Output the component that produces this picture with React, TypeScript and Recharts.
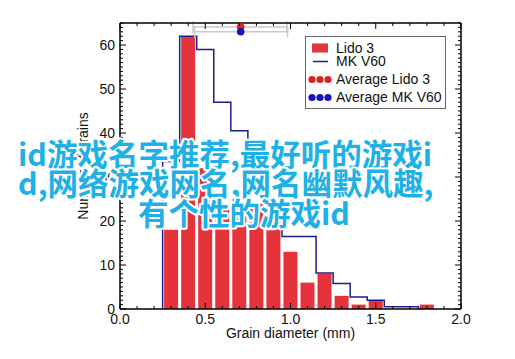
import React from 'react';
import { ComposedChart, Bar, Line, Scatter, ErrorBar, XAxis, YAxis, Legend } from 'recharts';

// histogram bins (mm) and counts
const binCenters = [0.3, 0.4, 0.5, 0.6, 0.7, 0.8, 0.9, 1.0, 1.1, 1.2, 1.3, 1.4, 1.5, 1.6, 1.7, 1.8];
const lidoCounts = [18, 62, 32, 24, 24, 24, 22, 13, 6, 8, 3, 1, 2, 0, 0, 1];

// MK V60 step outline (bin edges)
const mkEdges = [0.25, 0.25, 0.35, 0.45, 0.55, 0.65, 0.75, 0.85, 0.95, 1.05, 1.15, 1.25, 1.35, 1.45, 1.55, 1.65, 1.75];
const mkCounts = [0, 33.5, 62, 59, 47, 40.5, 30, 25, 16.5, 16.5, 8.2, 5.8, 2.7, 2, 0.5, 0.5, 0];

// averages with spread
const avgX = [0.708, 0.708];
const avgY = [64.1, 63.0];
const avgErrLow = [0.28, 0.27];
const avgErrHigh = [0.27, 0.275];

const xMajorTicks = [0, 0.5, 1.0, 1.5, 2.0];
const yMajorTicks = [0, 10, 20, 30, 40, 50, 60];
const xTicks = Array.from({ length: 21 }, (_, i) => i / 10);
const yTicks = Array.from({ length: 66 }, (_, i) => i);

const legendNames = ['Lido 3', 'MK V60', 'Average Lido 3', 'Average MK V60'];
const overlayLines = ['id游戏名字推荐,最好听的游戏i', 'd,网络游戏网名,网名幽默风趣,', '有个性的游戏id'];

const RED = '#e5333b';
const NAVY = '#1c1c8c';
const FONT = '"Liberation Sans", Arial, Helvetica, sans-serif';

const barData = binCenters.map((x, i) => ({ x, count: lidoCounts[i] }));
const mkData = mkEdges.map((x, i) => ({ x, y: mkCounts[i] }));
const avgLido = [{ x: avgX[0], y: avgY[0], err: [avgErrLow[0], avgErrHigh[0]] }];
const avgMk = [{ x: avgX[1], y: avgY[1], err: [avgErrLow[1], avgErrHigh[1]] }];

const isMajorX = (v: number) => xMajorTicks.some((m) => Math.abs(m - v) < 1e-6);

const BottomTick = (props: any) => {
  const { x, y, payload } = props;
  const major = isMajorX(payload.value);
  return (
    <g>
      <line x1={x} y1={y} x2={x} y2={y - (major ? 6 : 3)} stroke="#000" strokeWidth={1} />
      {major && (
        <text x={x} y={y + 14.5} textAnchor="middle" fontSize={14} fontFamily={FONT} fill="#111">
          {payload.value.toFixed(1)}
        </text>
      )}
    </g>
  );
};

const TopTick = (props: any) => {
  const { x, y, payload } = props;
  const major = isMajorX(payload.value);
  return <line x1={x} y1={y} x2={x} y2={y + (major ? 6 : 3)} stroke="#000" strokeWidth={1} />;
};

const LeftTick = (props: any) => {
  const { x, y, payload } = props;
  const major = yMajorTicks.includes(payload.value);
  return (
    <g>
      <line x1={x} y1={y} x2={x + (major ? 6 : 3)} y2={y} stroke="#000" strokeWidth={1} />
      {major && (
        <text x={x - 5} y={y} dy="0.35em" textAnchor="end" fontSize={14} fontFamily={FONT} fill="#111">
          {payload.value}
        </text>
      )}
    </g>
  );
};

const RightTick = (props: any) => {
  const { x, y, payload } = props;
  const major = yMajorTicks.includes(payload.value);
  return <line x1={x} y1={y} x2={x - (major ? 6 : 3)} y2={y} stroke="#000" strokeWidth={1} />;
};

// bar drawn centred on its bin with a fixed width
const HistBar = (props: any) => {
  const { x, y, width, height } = props;
  if (!height || height <= 0) return null;
  const cx = x + width / 2;
  return <rect x={cx - 7} y={y} width={14} height={height} fill={RED} />;
};

const LegendBox = () => {
  const rows = [12, 25.5, 43.5, 61.5];
  return (
    <svg width={141} height={73} style={{ display: 'block' }}>
      <rect x={0.5} y={0.5} width={140} height={72} fill="#fff" stroke="#666" strokeWidth={1} />
      <rect x={7} y={rows[0] - 4.5} width={16} height={9} fill={RED} />
      <line x1={8} y1={rows[1]} x2={23} y2={rows[1]} stroke={NAVY} strokeWidth={1.5} />
      {[7, 15, 23].map((cx) => (
        <circle key={'r' + cx} cx={cx} cy={rows[2]} r={3.6} fill="#e0201f" />
      ))}
      {[7, 15, 23].map((cx) => (
        <circle key={'b' + cx} cx={cx} cy={rows[3]} r={3.6} fill="#1414c0" />
      ))}
      {legendNames.map((n, i) => (
        <text key={n} x={31} y={rows[i]} dy="0.35em" fontSize={14} fontFamily={FONT} fill="#111">
          {n}
        </text>
      ))}
    </svg>
  );
};

const dotShape = (color: string) => (p: any) => <circle cx={p.cx} cy={p.cy} r={3.8} fill={color} />;

export default function App() {
  return (
    <div style={{ position: 'absolute', left: 0, top: 0, width: 515, height: 359, background: '#fff' }}>
      <ComposedChart width={515} height={359} data={barData} margin={{ top: 0, right: 0, bottom: 0, left: 0 }}>
        <XAxis
          dataKey="x"
          type="number"
          domain={[0, 2]}
          allowDataOverflow
          ticks={xTicks}
          interval={0}
          height={50}
          tickSize={0}
          tickMargin={0}
          tickLine={false}
          tick={<BottomTick />}
          axisLine={{ stroke: '#000', strokeWidth: 1.5 }}
          label={{ value: 'Grain diameter (mm)', position: 'insideBottom', offset: 21, fontSize: 14, fontFamily: FONT, fill: '#111' }}
        />
        <XAxis
          xAxisId="top"
          orientation="top"
          dataKey="x"
          type="number"
          domain={[0, 2]}
          allowDataOverflow
          ticks={xTicks}
          interval={0}
          height={23}
          tickSize={0}
          tickMargin={0}
          tickLine={false}
          tick={<TopTick />}
          axisLine={{ stroke: '#000', strokeWidth: 1.5 }}
        />
        <YAxis
          type="number"
          domain={[0, 65]}
          allowDataOverflow
          ticks={yTicks}
          interval={0}
          width={120}
          tickSize={0}
          tickMargin={0}
          tickLine={false}
          tick={<LeftTick />}
          axisLine={{ stroke: '#000', strokeWidth: 1.5 }}
          label={{ value: 'Number of grains', angle: -90, position: 'insideLeft', offset: 83, fontSize: 14, fontFamily: FONT, fill: '#111', style: { textAnchor: 'middle' } }}
        />
        <YAxis
          yAxisId="right"
          orientation="right"
          type="number"
          domain={[0, 65]}
          allowDataOverflow
          ticks={yTicks}
          interval={0}
          width={54}
          tickSize={0}
          tickMargin={0}
          tickLine={false}
          tick={<RightTick />}
          axisLine={{ stroke: '#000', strokeWidth: 1.5 }}
        />
        <Legend
          layout="horizontal"
          verticalAlign="middle"
          align="center"
          wrapperStyle={{ left: 305, top: 36, width: 141, height: 73 }}
          content={() => <LegendBox />}
        />
        <Bar dataKey="count" name="Lido 3" fill={RED} shape={<HistBar />} isAnimationActive={false} />
        <Line
          data={mkData}
          dataKey="y"
          name="MK V60"
          type="stepAfter"
          stroke={NAVY}
          strokeWidth={1.5}
          dot={false}
          activeDot={false}
          isAnimationActive={false}
        />
        <Scatter data={avgLido} dataKey="y" name="Average Lido 3" fill="#e0201f" shape={dotShape('#e0201f')} isAnimationActive={false}>
          <ErrorBar dataKey="err" direction="x" width={6} stroke="#c9c9d6" strokeWidth={1.5} />
        </Scatter>
        <Scatter data={avgMk} dataKey="y" name="Average MK V60" fill="#1414c0" shape={dotShape('#1414c0')} isAnimationActive={false}>
          <ErrorBar dataKey="err" direction="x" width={6} stroke="#c9c9d6" strokeWidth={1.5} />
        </Scatter>
      </ComposedChart>
      <svg width={515} height={359} style={{ position: 'absolute', left: 0, top: 0, pointerEvents: 'none' }}>
        {overlayLines.map((t, i) => (
          <text
            key={i}
            x={i === 2 ? 138 : 18}
            y={[153, 182, 212][i]}
            dominantBaseline="central"
            fontSize={30.5}
            fontWeight={700}
            fontFamily='"Noto Sans CJK SC", "Noto Sans", sans-serif'
            fill="#1fb0e6"
            stroke="#fff"
            strokeWidth={4}
            strokeLinejoin="round"
            paintOrder="stroke"
          >
            {t}
          </text>
        ))}
      </svg>
    </div>
  );
}
